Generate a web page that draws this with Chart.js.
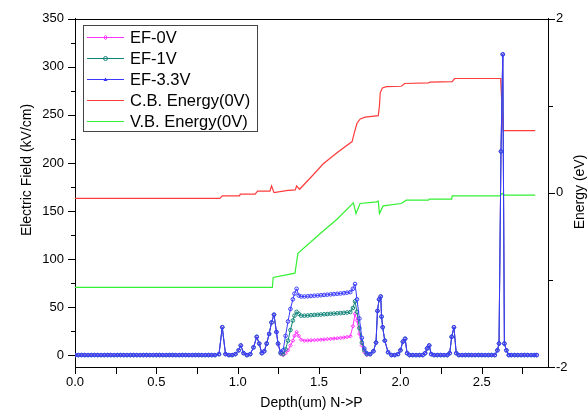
<!DOCTYPE html>
<html><head><meta charset="utf-8">
<script src="https://cdn.jsdelivr.net/npm/chart.js@4.4.1/dist/chart.umd.min.js"></script>
<style>html,body{margin:0;padding:0;background:#fff;overflow:hidden}canvas{display:block}</style>
</head><body>
<canvas id="c" width="588" height="412"></canvas>
<script>
// ---- Electric field series (left axis, kV/cm) ----
const efDepth = [
  0,0.02,0.04,0.06,0.08,0.1,0.12,0.14,0.16,0.18,0.2,0.22,0.24,0.26,0.28,0.3,0.32,0.34,0.36,0.38,0.4,0.42,0.44,0.46,0.48,0.5,0.52,0.54,0.56,0.58,0.6,0.62,0.64,0.66,0.68,0.7,0.72,0.74,0.76,0.78,0.8,0.82,0.84,0.86,
  0.885,0.905,0.925,0.946,0.966,0.986,1.006,1.019,1.036,1.057,1.077,1.097,1.117,1.132,1.148,1.163,1.178,1.193,1.208,1.223,1.238,
  1.248,1.264,1.279,1.294,1.309,1.324,1.339,1.349,1.362,1.375,1.39,
  1.41,1.43,1.45,1.471,1.491,1.511,1.531,1.551,1.571,1.591,1.612,1.632,1.652,1.672,1.692,
  1.708,1.721,1.733,1.748,1.763,1.778,1.793,
  1.814,1.834,1.85,1.859,1.869,1.879,1.884,1.891,1.904,1.924,1.945,1.965,1.985,2.0,2.015,2.029,2.041,2.056,2.076,2.096,2.116,2.137,2.152,2.164,2.177,2.189,2.207,2.227,2.248,2.268,2.288,2.303,2.315,2.329,2.343,
  2.359,2.379,2.399,2.419,2.439,2.459,2.48,2.5,2.52,2.54,2.56,2.58,
  2.596,2.606,2.618,2.629,2.639,2.651,2.666,
  2.681,2.702,2.722,2.742,2.762,2.782,2.803,2.823,2.838
];
const ef33V = [
  0,0,0,0,0,0,0,0,0,0,0,0,0,0,0,0,0,0,0,0,0,0,0,0,0,0,0,0,0,0,0,0,0,0,0,0,0,0,0,0,0,0,0,0,
  1,29,1,0,0,1,5,10,2,0,1,8,19,12,2,4,12,22,34,42,24,
  12,3,5,20,35,48,58,64,69,62,61,
  61,61.2,61.5,61.8,62,62.3,62.6,62.9,63.2,63.5,63.8,64.1,64.5,65,65.5,
  69,74,58,38,18,7,2,
  1,4,13,46,58,61,40,29,15,3,0,0,1,5,14,17,2,0,0,0,0,0,2,7,10,1,0,0,0,0,0,2,19,29,2,
  0,0,0,0,0,0,0,0,0,0,0,0,
  5,12,212,313,12,5,0,
  0,0,0,0,0,0,0,0,0
];
const ef1V = [
  0,0,0,0,0,0,0,0,0,0,0,0,0,0,0,0,0,0,0,0,0,0,0,0,0,0,0,0,0,0,0,0,0,0,0,0,0,0,0,0,0,0,0,0,
  1,29,1,0,0,1,5,10,2,0,1,8,19,12,2,4,12,22,34,42,24,
  12,2,1,6,15,26,36,41,45,43,41,
  41,41.2,41.5,41.8,42,42.2,42.5,42.7,43,43.2,43.5,43.7,44,44.3,44.8,
  49,56,45,28,13,5,1,
  1,4,13,46,58,61,40,29,15,3,0,0,1,5,14,17,2,0,0,0,0,0,2,7,10,1,0,0,0,0,0,2,19,29,2,
  0,0,0,0,0,0,0,0,0,0,0,0,
  5,12,212,313,12,5,0,
  0,0,0,0,0,0,0,0,0
];
const ef0V = [
  0,0,0,0,0,0,0,0,0,0,0,0,0,0,0,0,0,0,0,0,0,0,0,0,0,0,0,0,0,0,0,0,0,0,0,0,0,0,0,0,0,0,0,0,
  1,29,1,0,0,1,5,10,2,0,1,8,19,12,2,4,12,22,34,42,24,
  11,1,0,2,5,10,15,20,24,20,16,
  15,15.2,15.4,15.6,15.8,16,16.3,16.6,16.9,17.2,17.5,17.9,18.3,18.8,19.6,
  30,43,36,22,10,3,0,
  1,4,13,46,58,61,40,29,15,3,0,0,1,5,14,17,2,0,0,0,0,0,2,7,10,1,0,0,0,0,0,2,19,29,2,
  0,0,0,0,0,0,0,0,0,0,0,0,
  5,12,212,313,12,5,0,
  0,0,0,0,0,0,0,0,0
];
// ---- Band energies (right axis, eV) ----
const cbDepth  = [0,0.89,0.905,1.011,1.016,1.107,1.122,1.198,1.208,1.223,1.309,1.354,1.362,1.38,1.46,1.526,1.612,1.703,1.718,1.733,1.753,1.783,1.864,1.871,1.876,1.889,1.914,2.005,2.026,2.172,2.182,2.318,2.333,2.616,2.631,2.828];
const cbEnergy = [-0.063,-0.063,-0.034,-0.034,-0.015,-0.015,0.02,0.02,0.08,0.003,0.03,0.035,0.08,0.042,0.2,0.335,0.465,0.59,0.70,0.80,0.85,0.87,0.888,1.0,1.15,1.205,1.22,1.225,1.257,1.265,1.272,1.278,1.314,1.314,0.716,0.716];
const vbDepth  = [0,1.213,1.218,1.352,1.37,1.511,1.612,1.711,1.727,1.752,1.854,1.864,1.871,1.894,2.005,2.036,2.172,2.177,2.315,2.318,2.611,2.626,2.641,2.828];
const vbEnergy = [-1.086,-1.086,-0.971,-0.922,-0.694,-0.46,-0.30,-0.114,-0.237,-0.122,-0.103,-0.095,-0.237,-0.149,-0.122,-0.084,-0.084,-0.072,-0.072,-0.034,-0.034,-0.008,-0.026,-0.026];

// ---- Tick labels ----
const xTickLabels = ['0.0','0.5','1.0','1.5','2.0','2.5'];
const leftTickLabels = ['0','50','100','150','200','250','300','350'];
const rightTickLabels = ['-2','0','2'];
const seriesNames = ['EF-0V','EF-1V','EF-3.3V','C.B. Energy(0V)','V.B. Energy(0V)'];

const COL = {ef0:'#ff33ff', ef1:'#12857a', ef33:'#3a3aff', cb:'#ff3c3c', vb:'#33f033'};
const FONT = "'Liberation Sans', Arial, sans-serif";

function pts(xs, ys){ return xs.map((x,i)=>({x:x, y:ys[i]})); }

function drawMarker(ctx, style, x, y, r, color){
  ctx.save(); ctx.strokeStyle=color; ctx.fillStyle=color; ctx.lineWidth=1; ctx.beginPath();
  if(style==='circle'){ ctx.arc(x,y,r,0,Math.PI*2); ctx.stroke(); }
  else if(style==='rectRot'){ ctx.moveTo(x,y-r); ctx.lineTo(x+r,y); ctx.lineTo(x,y+r); ctx.lineTo(x-r,y); ctx.closePath(); ctx.stroke(); }
  else if(style==='triangle'){ ctx.moveTo(x,y-r); ctx.lineTo(x+r,y+r*0.8); ctx.lineTo(x-r,y+r*0.8); ctx.closePath(); ctx.fill(); }
  ctx.restore();
}

const decor = {
  id:'decor',
  afterDraw(chart){
    const {ctx, chartArea:a, scales} = chart;
    ctx.save();
    ctx.strokeStyle='#000'; ctx.lineWidth=1;
    ctx.beginPath();
    const ty = Math.round(a.top)+0.5;
    ctx.moveTo(Math.round(a.left), ty); ctx.lineTo(Math.round(a.right)+1, ty);
    const yl = scales.y;
    yl.ticks.forEach(t=>{
      const p = Math.round(yl.getPixelForValue(t.value))+0.5;
      const len = leftTickLabels.includes(String(t.value)) ? 7 : 4;
      ctx.moveTo(Math.round(a.left)-len, p); ctx.lineTo(Math.round(a.left), p);
    });
    const yr = scales.y2;
    yr.ticks.forEach(t=>{
      const p = Math.round(yr.getPixelForValue(t.value))+0.5;
      const len = rightTickLabels.includes(String(t.value)) ? 7 : 5;
      ctx.moveTo(Math.round(a.right), p); ctx.lineTo(Math.round(a.right)+len, p);
    });
    const xs = scales.x;
    xs.ticks.forEach(t=>{
      const p = Math.round(xs.getPixelForValue(t.value))+0.5;
      ctx.moveTo(p, Math.round(a.bottom)); ctx.lineTo(p, Math.round(a.bottom)+7);
    });
    ctx.stroke();

    ctx.fillStyle='#000';
    ctx.font = '14px '+FONT;
    ctx.textAlign='center'; ctx.textBaseline='middle';
    ctx.fillText('Depth(um) N->P', (a.left+a.right)/2, 403);
    ctx.save(); ctx.translate(27, 170); ctx.rotate(-Math.PI/2); ctx.fillText('Electric Field (kV/cm)', 0, 0); ctx.restore();
    ctx.save(); ctx.translate(580, 192); ctx.rotate(-Math.PI/2); ctx.fillText('Energy (eV)', 0, 0); ctx.restore();

    const lx=83.5, ly=25.5, lw=174, lh=106;
    ctx.strokeStyle='#444'; ctx.lineWidth=1;
    ctx.strokeRect(lx, ly, lw, lh);
    const rows=[37,58,79,100,121];
    const legendStyles=[['rectRot',COL.ef0],['circle',COL.ef1],['triangle',COL.ef33],[null,COL.cb],[null,COL.vb]];
    ctx.font='16.5px '+FONT; ctx.textAlign='left'; ctx.textBaseline='middle';
    rows.forEach((ry,i)=>{
      const [st,col]=legendStyles[i];
      ctx.strokeStyle=col; ctx.lineWidth=1;
      ctx.beginPath(); ctx.moveTo(87, ry+0.5); ctx.lineTo(124, ry+0.5); ctx.stroke();
      if(st) drawMarker(ctx, st, 105.5, ry+0.5, 2, col);
      ctx.fillStyle='#000';
      ctx.fillText(seriesNames[i], 130, ry+1);
    });
    ctx.restore();
  }
};

const efCommon = {showLine:true, borderWidth:1, pointRadius:1.8, pointBorderWidth:1, pointBackgroundColor:'rgba(0,0,0,0)', tension:0, yAxisID:'y'};
const bandCommon = {showLine:true, borderWidth:1.2, pointRadius:0, tension:0, yAxisID:'y2'};

new Chart(document.getElementById('c'), {
  type:'scatter',
  data:{ datasets:[
    Object.assign({label:seriesNames[2], data:pts(efDepth, ef33V), borderColor:COL.ef33, pointBorderColor:COL.ef33, pointStyle:'circle'}, efCommon),
    Object.assign({label:seriesNames[1], data:pts(efDepth, ef1V), borderColor:COL.ef1, pointBorderColor:COL.ef1, pointStyle:'circle'}, efCommon),
    Object.assign({label:seriesNames[0], data:pts(efDepth, ef0V), borderColor:COL.ef0, pointBorderColor:COL.ef0, pointStyle:'rectRot'}, efCommon),
    Object.assign({label:seriesNames[3], data:pts(cbDepth, cbEnergy), borderColor:COL.cb}, bandCommon),
    Object.assign({label:seriesNames[4], data:pts(vbDepth, vbEnergy), borderColor:COL.vb}, bandCommon)
  ]},
  options:{
    responsive:false, animation:false, devicePixelRatio:1, events:[],
    layout:{padding:{top:17, left:0, right:0, bottom:0}},
    plugins:{legend:{display:false}, tooltip:{enabled:false}},
    scales:{
      x:{ type:'linear', min:0, max:2.907,
        grid:{display:false, drawTicks:false},
        border:{display:true, color:'#000', width:1},
        afterFit(s){ s.height = 45; },
        ticks:{ stepSize:0.25, includeBounds:false, autoSkip:false, maxRotation:0, padding:8, color:'#000',
          font:{family:FONT, size:13},
          callback(v){ const s=(Math.round(v*100)/100).toFixed(1); return (Math.abs(v*2-Math.round(v*2))<1e-6 && xTickLabels.includes(s)) ? s : ''; } }
      },
      y:{ type:'linear', position:'left', min:-12.4, max:350,
        grid:{display:false, drawTicks:false},
        border:{display:true, color:'#000', width:1},
        afterFit(s){ s.width = 75; },
        ticks:{ stepSize:25, includeBounds:false, autoSkip:false, padding:11, color:'#000',
          font:{family:FONT, size:13},
          callback(v){ return leftTickLabels.includes(String(v)) ? String(v) : ''; } }
      },
      y2:{ type:'linear', position:'right', min:-2, max:2,
        grid:{display:false, drawTicks:false},
        border:{display:true, color:'#000', width:1},
        afterFit(s){ s.width = 40; },
        ticks:{ stepSize:1, autoSkip:false, padding:8, color:'#000',
          font:{family:FONT, size:13},
          callback(v){ return rightTickLabels.includes(String(v)) ? String(v) : ''; } }
      }
    }
  },
  plugins:[decor]
});
</script>
</body></html>
